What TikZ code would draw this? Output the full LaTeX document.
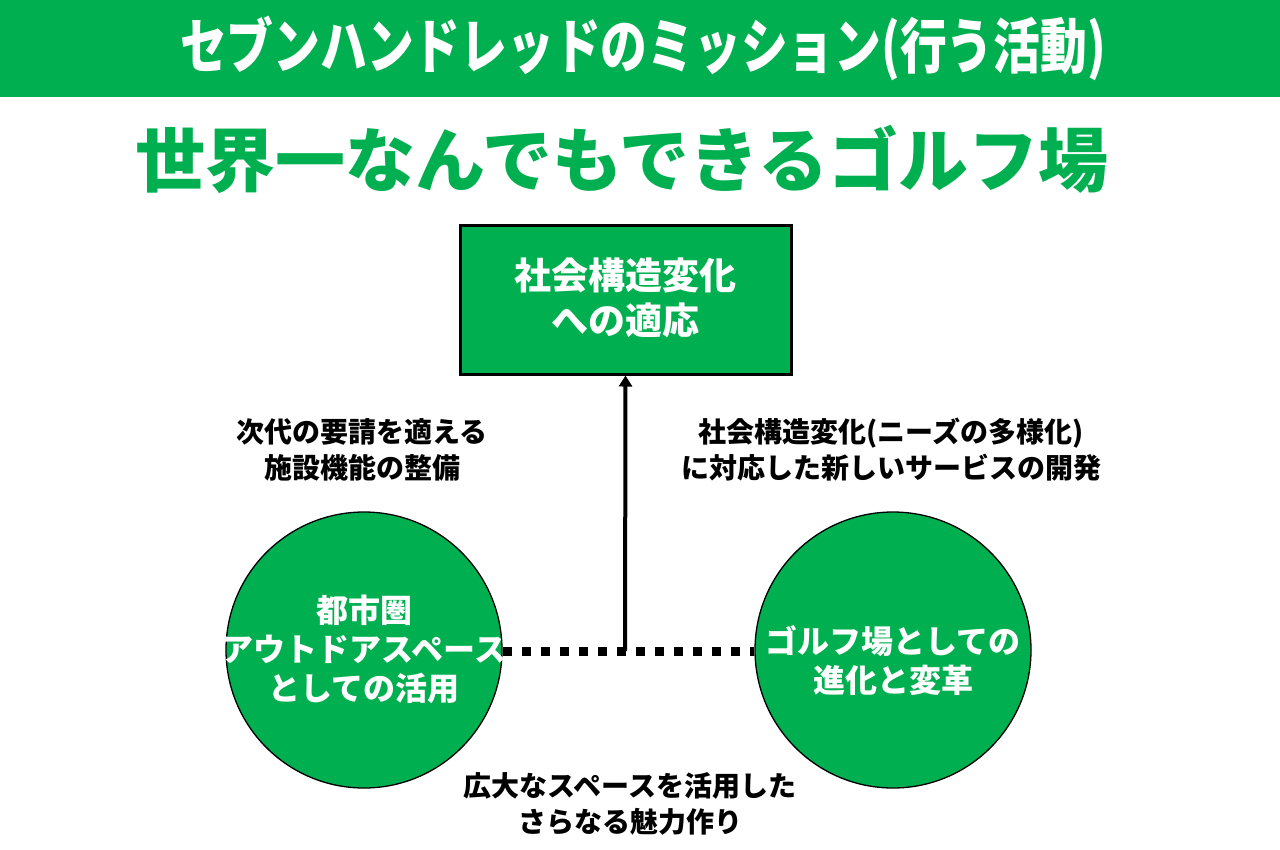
\documentclass[tikz,border=0pt]{standalone}
\usepackage{fontspec}
\newfontfamily\jp{Noto Sans CJK JP}
\usetikzlibrary{arrows.meta}
\definecolor{sgreen}{RGB}{0,176,80}
\tikzset{
  jptext/.style={inner sep=0pt, align=center, font=\jp\bfseries},
  label28/.style={jptext, text=black, font=\jp\bfseries\fontsize{28}{36}\selectfont},
  circ/.style={circle, draw=black, line width=1.3pt, fill=sgreen, minimum size=276pt, inner sep=0pt},
  circtext/.style={jptext, text=white, font=\jp\bfseries\fontsize{32}{39}\selectfont},
  dotline/.style={line width=9pt, dash pattern=on 9pt off 10pt},
  arrowline/.style={line width=4pt, -{Triangle[length=11pt,width=13pt]}}
}
\begin{document}
\begin{tikzpicture}[x=1pt,y=-1pt]
\useasboundingbox (0,0) rectangle (1280,849);
\fill[white] (0,0) rectangle (1280,849);
% banner
\node[fill=sgreen, minimum width=1280pt, minimum height=97pt, inner sep=0pt, anchor=north west] (banner) at (0,0) {};
\node[jptext, text=white, font=\jp\bfseries\fontsize{60}{62}\selectfont] (title) at (643,48)
  {\resizebox{926pt}{\height}{セブンハンドレッドのミッション(行う活動)}};
% heading
\node[jptext, text=sgreen, font=\jp\bfseries\fontsize{70}{72}\selectfont] (heading) at (622,159)
  {世界一なんでもできるゴルフ場};
% goal box
\node[draw=black, line width=3pt, fill=sgreen, minimum width=331pt, minimum height=149pt, inner sep=0pt] (goal) at (625.5,299.5) {};
\node[jptext, text=white, font=\jp\bfseries\fontsize{37}{45}\selectfont] (goaltext) at (625.5,297.5)
  {社会構造変化\\への適応};
% circles
\node[circ] (lc) at (364,650) {};
\node[circ] (rc) at (893,650) {};
\node[circtext] (lctext) at (364,649) {都市圏\\アウトドアスペース\\としての活用};
\node[circtext] (rctext) at (893,661) {ゴルフ場としての\\進化と変革};
% connectors
\coordinate (mid) at (625,651);
\draw[dotline] (lc.east |- mid) -- (rc.west |- mid);
\draw[arrowline] (mid) -- (goal.south);
% labels
\node[label28] (l1) at (362,450) {次代の要請を適える\\施設機能の整備};
\node[label28] (l2) at (891,450) {社会構造変化(ニーズの多様化)\\に対応した新しいサービスの開発};
\node[label28] (l3) at (630,804) {広大なスペースを活用した\\さらなる魅力作り};
\end{tikzpicture}
\end{document}
